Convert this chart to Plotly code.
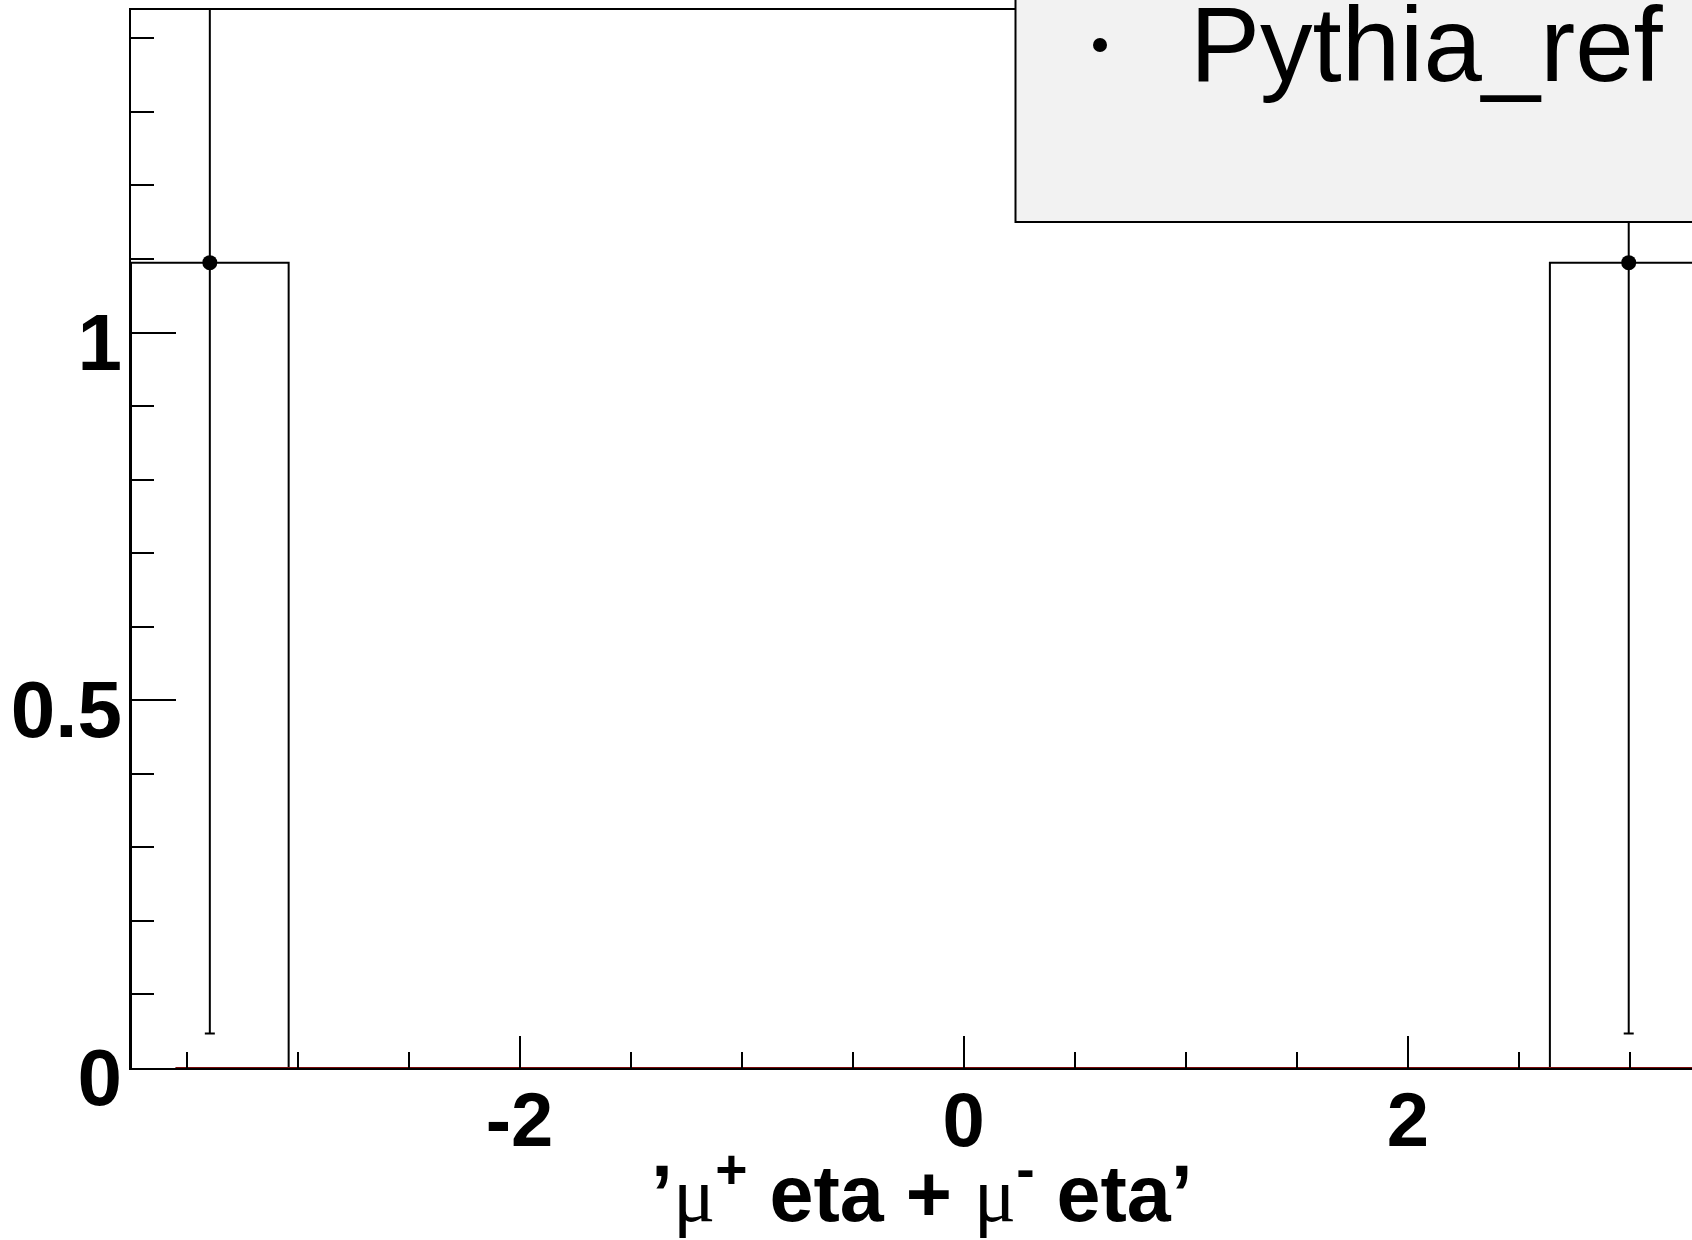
import plotly.graph_objects as go

# Histogram of mu+ eta + mu- eta (Pythia_ref sample)
bin_edges = [-3.75, -3.04, -2.33, -1.62, -0.91, -0.20, 0.51, 1.22, 1.93, 2.64, 3.35]
bin_content = [1.095, 0, 0, 0, 0, 0, 0, 0, 0, 1.095]
bin_error = [1.048, 0, 0, 0, 0, 0, 0, 0, 0, 1.048]

# second (empty) histogram drawn in red along zero
red_edges = [-3.55, 3.35]
red_content = [0]

x_ticks = [-2, 0, 2]
x_ticklabels = ["-2", "0", "2"]
y_ticks = [0, 0.5, 1]
y_ticklabels = ["0", "0.5", "1"]

x_range = [-3.75, 3.28]
y_range = [0, 1.4385]

W, H = 1692, 1240
ML, MR, MT, MB = 131, 0, 10, 172

fig = go.Figure()

# step outline of the histogram
step_x = [bin_edges[0]] + bin_edges + [bin_edges[-1]]
step_y = [0] + bin_content + [bin_content[-1], 0]
fig.add_trace(go.Scatter(
    x=step_x, y=step_y, mode="lines", line_shape="hv",
    line=dict(color="black", width=2), showlegend=False, hoverinfo="skip"))

# red empty histogram along the baseline
fig.add_trace(go.Scatter(
    x=[red_edges[0], red_edges[-1]], y=[red_content[0], red_content[0]],
    mode="lines", line=dict(color="#7a0c0c", width=2),
    showlegend=False, hoverinfo="skip"))

# markers with error bars for filled bins
centers, vals, errs = [], [], []
for i, c in enumerate(bin_content):
    if c > 0:
        centers.append((bin_edges[i] + bin_edges[i + 1]) / 2)
        vals.append(c)
        errs.append(bin_error[i])
fig.add_trace(go.Scatter(
    x=centers, y=vals, mode="markers", name="Pythia_ref",
    marker=dict(color="black", size=15, symbol="circle"),
    error_y=dict(type="data", array=errs, visible=True, color="black",
                 thickness=2, width=5),
    showlegend=False, cliponaxis=True))

tick_font_x = dict(family="Liberation Sans", size=76, color="black", weight="bold")
tick_font_y = dict(family="Liberation Sans", size=80, color="black", weight="bold")

fig.update_xaxes(
    range=x_range, showgrid=False, zeroline=False, automargin=False,
    showline=True, linecolor="black", linewidth=2, mirror=True,
    tickmode="array", tickvals=x_ticks, ticktext=x_ticklabels,
    ticks="inside", ticklen=32, tickwidth=2, tickcolor="black",
    tickfont=tick_font_x, ticklabelstandoff=-15,
    minor=dict(dtick=0.5, tick0=0, ticks="inside", ticklen=16,
               tickwidth=2, tickcolor="black", showgrid=False),
)
fig.update_yaxes(
    range=y_range, showgrid=False, zeroline=False, automargin=False,
    showline=True, linecolor="black", linewidth=2, mirror=False,
    tickmode="array", tickvals=y_ticks, ticktext=y_ticklabels,
    ticks="inside", ticklen=45, tickwidth=2, tickcolor="black",
    tickfont=tick_font_y, ticklabelstandoff=-9, ticklabelshift=9,
    minor=dict(dtick=0.1, tick0=0, ticks="inside", ticklen=23,
               tickwidth=2, tickcolor="black", showgrid=False),
)

pw = W - ML - MR
ph = H - MT - MB


def px_x(p):
    return (p - ML) / pw


def px_y(p):
    return (H - MB - p) / ph


# legend box (extends past the canvas edge)
fig.add_shape(type="rect", xref="paper", yref="paper",
              x0=px_x(1015.5), x1=1.2, y0=px_y(222), y1=1.2,
              line=dict(color="black", width=2), fillcolor="#f2f2f2", layer="above")
fig.add_shape(type="circle", xref="paper", yref="paper",
              xsizemode="pixel", ysizemode="pixel",
              xanchor=px_x(1100), yanchor=px_y(45),
              x0=-7, x1=7, y0=-7, y1=7,
              line=dict(color="black", width=0), fillcolor="black", layer="above")
fig.add_annotation(xref="paper", yref="paper", x=px_x(1188), y=px_y(45),
                   xanchor="left", yanchor="middle", showarrow=False,
                   text="Pythia_ref",
                   font=dict(family="Liberation Sans", size=105, color="black"))

# x-axis title
mu = "<span style='font-family:Liberation Serif;font-weight:normal'>μ</span>"
fig.add_annotation(xref="paper", yref="paper", x=px_x(922), y=px_y(1188),
                   xanchor="center", yanchor="middle", showarrow=False,
                   text=f"’{mu}<sup>+</sup> eta + {mu}<sup>-</sup> eta’",
                   font=dict(family="Liberation Sans", size=79, color="black",
                             weight="bold"))

fig.update_layout(
    width=W, height=H,
    margin=dict(l=ML, r=MR, t=MT, b=MB, pad=0, autoexpand=False),
    plot_bgcolor="white", paper_bgcolor="white",
    showlegend=False,
)

fig.write_html("out.html")
